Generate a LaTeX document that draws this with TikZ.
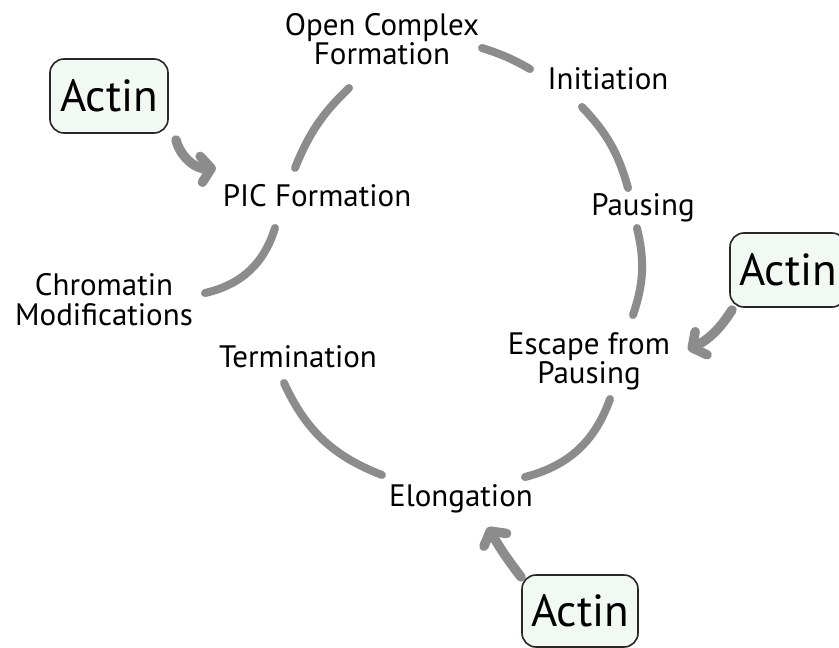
\documentclass[tikz,border=0pt]{standalone}
\usepackage{fontspec}
\setmainfont{PT Sans}
\usetikzlibrary{arrows.meta}
\definecolor{arcgray}{HTML}{8C8C8C}
\definecolor{boxfill}{HTML}{F2F8F2}
\begin{document}
\begin{tikzpicture}[x=1pt,y=1pt,
  lbl/.style={font=\fontsize{31}{27}\selectfont, align=center, inner sep=0pt},
  actinbox/.style={draw=black!85, line width=1.6pt, fill=boxfill, rounded corners=14pt,
    minimum width=118pt, minimum height=74pt, font=\fontsize{45}{45}\selectfont, inner sep=0pt},
  cyc/.style={draw=arcgray, line width=8pt, line cap=round},
  act/.style={draw=arcgray, line width=9.5pt, line cap=round,
    -{Straight Barb[length=10pt,width=26pt,round]}}]
\useasboundingbox (0,0) rectangle (839,-648);
\fill[white] (0,0) rectangle (839,-648);

% labels
\node[lbl] (open) at (382,-39) {Open Complex\\Formation};
\node[lbl] (init) at (608,-79) {Initiation};
\node[lbl] (paus) at (643,-208) {Pausing};
\node[lbl] (pic)  at (317,-196) {PIC Formation};
\node[lbl, font=\fontsize{31}{30}\selectfont] (chrom) at (104,-300) {Chromatin\\Modifications};
\node[lbl] (term) at (298,-357) {Termination};
\node[lbl] (esc)  at (589,-361) {Escape from\\Pausing};
\node[lbl] (elong) at (461,-499) {Elongation};

% actin boxes
\node[actinbox] (a1) at (109,-96) {Actin};
\node[actinbox, minimum width=116pt] (a2) at (788,-270) {Actin};
\node[actinbox, minimum width=116pt, minimum height=72pt] (a3) at (580,-611) {Actin};

% arc end points
\coordinate (c1s) at (349,-88);  \coordinate (c1e) at (295,-168);
\coordinate (c2s) at (275,-228); \coordinate (c2e) at (205,-293);
\coordinate (c3s) at (284,-383); \coordinate (c3e) at (382,-475);
\coordinate (c4s) at (525,-477); \coordinate (c4e) at (610,-399);
\coordinate (c5s) at (637,-228); \coordinate (c5e) at (633,-315);
\coordinate (c6s) at (582,-107); \coordinate (c6e) at (628,-188);
\coordinate (c7s) at (482,-48);  \coordinate (c7e) at (530,-69);

\draw[cyc] (c1s) to[bend right=12] (c1e);
\draw[cyc] (c2s) to[bend left=30] (c2e);
\draw[cyc] (c3s) to[bend right=22] (c3e);
\draw[cyc] (c4s) to[bend right=28] (c4e);
\draw[cyc] (c5s) to[bend left=16] (c5e);
\draw[cyc] (c6s) to[bend left=14] (c6e);
\draw[cyc] (c7s) to[bend left=6] (c7e);

% actin arrows
\coordinate (t1) at (216,-168);
\coordinate (t2) at (688,-350);
\coordinate (t3) at (488,-527);
\draw[act] (176,-140) to[bend right=40] (t1);
\draw[act] (732,-310) to[bend left=15] (t2);
\draw[act] (521,-577) to[bend left=4] (t3);
\end{tikzpicture}
\end{document}
